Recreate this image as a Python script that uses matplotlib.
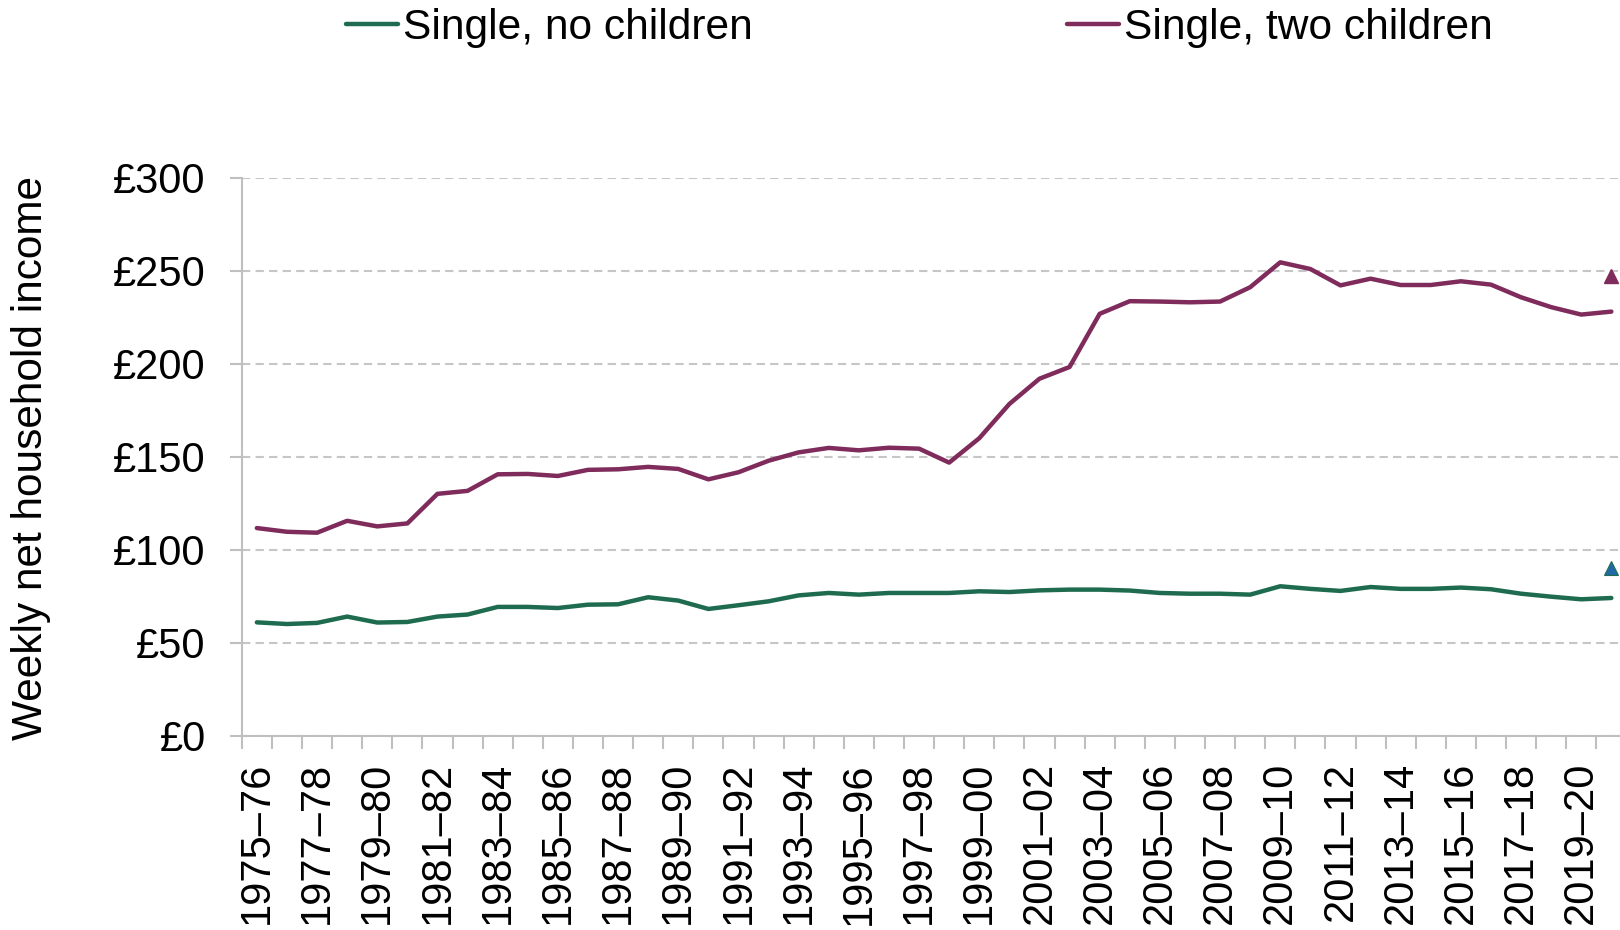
import numpy as np
import matplotlib.pyplot as plt

# Tax years 1975-76 .. 2020-21
start_years = list(range(1975, 2021))
years = [f"{y}\u2013{(y + 1) % 100:02d}" for y in start_years]

# Weekly net household income (£)
no_children = [60.9, 60.0, 60.6, 64.0, 60.8, 61.1, 64.0, 65.1, 69.2, 69.2,
               68.6, 70.4, 70.6, 74.4, 72.6, 68.1, 70.1, 72.2, 75.4, 76.7,
               75.8, 76.7, 76.7, 76.7, 77.6, 77.2, 78.1, 78.5, 78.5, 78.0,
               76.7, 76.3, 76.3, 75.8, 80.3, 78.9, 77.8, 79.9, 78.9, 78.9,
               79.6, 78.7, 76.3, 74.7, 73.3, 74.0]
two_children = [111.6, 109.6, 109.1, 115.5, 112.5, 114.1, 130.0, 131.6, 140.5, 140.7,
                139.6, 142.9, 143.2, 144.5, 143.4, 137.8, 141.6, 147.8, 152.3, 154.7,
                153.4, 154.8, 154.3, 146.8, 159.9, 178.3, 191.9, 198.2, 226.8, 233.6,
                233.4, 233.0, 233.4, 241.1, 254.5, 250.9, 242.1, 245.7, 242.3, 242.3,
                244.3, 242.5, 235.7, 230.4, 226.4, 228.0]

# single markers on the last year
marker_no_children = 90.0
marker_two_children = 247.0

yticks = [0, 50, 100, 150, 200, 250, 300]

green = '#1f6b50'
purple = '#7f2b5b'
blue = '#1f6aa5'
grey = '#bfbfbf'

plt.rcParams['font.family'] = ['Liberation Sans', 'DejaVu Sans']

fig = plt.figure(figsize=(16.2, 9.3), dpi=100)
W, H = 1620, 930
x0, y0, ytop = 241.8, 735.6, 177.7
cat_w = 30.1
ax = fig.add_axes([x0 / W, 1 - y0 / H, len(years) * cat_w / W, (y0 - ytop) / H])

x = np.arange(len(years))
ax.plot(x, no_children, color=green, lw=3.2, label='Single, no children', solid_capstyle='round')
ax.plot(x, two_children, color=purple, lw=3.2, label='Single, two children', solid_capstyle='round')
ax.plot([x[-1]], [marker_two_children], marker='^', ms=10, color=purple, ls='none', clip_on=False)
ax.plot([x[-1]], [marker_no_children], marker='^', ms=10, color=blue, mec=green, mew=0.8,
        ls='none', clip_on=False)

ax.set_xlim(-0.5, len(years) - 0.5)
ax.set_ylim(0, 300)

ax.set_yticks(yticks)
ax.set_yticklabels([f'£{v}' for v in yticks])
ax.yaxis.grid(True, color='#c6c6c6', lw=1.5, ls=(0, (4, 2.5)))
ax.set_axisbelow(True)

ax.set_xticks(x[::2])
ax.set_xticklabels(years[::2], rotation=90)
ax.set_xticks(np.arange(-0.5, len(years)), minor=True)
ax.tick_params(axis='x', which='major', length=0, pad=19, labelsize=30)
ax.tick_params(axis='x', which='minor', length=9, width=1.5, color=grey)
ax.tick_params(axis='y', length=9, width=1.5, color=grey, pad=17, labelsize=30)

for s in ['top', 'right']:
    ax.spines[s].set_visible(False)
for s in ['left', 'bottom']:
    ax.spines[s].set_color(grey)
    ax.spines[s].set_linewidth(1.5)

fig.text(31 / W, 1 - 458 / H, 'Weekly net household income', rotation=90,
         ha='center', va='center', fontsize=30.5)

fig.legend(loc='center left', bbox_to_anchor=(346 / W, 1 - 28 / H), ncol=2,
           frameon=False, fontsize=30.6, handlelength=1.22, handletextpad=0.12,
           columnspacing=7.4, borderpad=0, borderaxespad=0)

fig.savefig('out.png', dpi=100)
